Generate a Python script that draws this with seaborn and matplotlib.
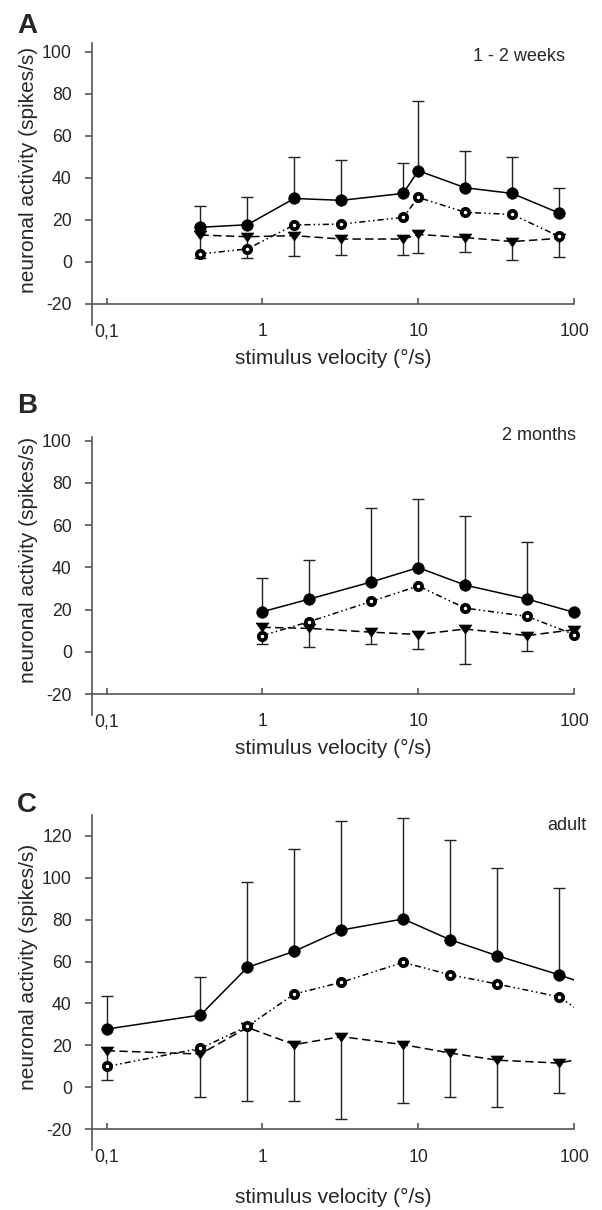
import numpy as np
import matplotlib
matplotlib.use('Agg')
import matplotlib.pyplot as plt
from matplotlib.ticker import NullLocator
import seaborn as sns

sns.set_style("white")
plt.rcParams['font.family'] = ['Liberation Sans', 'DejaVu Sans']

# ---- datos ----
# A: 1 - 2 weeks
vel_a = [0.4, 0.8, 1.6, 3.2, 8, 10, 20, 40, 80]
solid_a = [16.5, 17.7, 30.2, 29.3, 32.6, 43.4, 35.3, 32.6, 23.3]
solid_err_a = [9.9, 13.3, 19.5, 19.3, 14.4, 33.1, 17.4, 17.3, 11.7]
dotted_a = [3.8, 6.2, 17.6, 18.0, 21.2, 30.7, 23.6, 22.6, 12.2]
tri_a = [12.8, 12.0, 12.5, 10.9, 10.9, 13.1, 11.6, 9.7, 11.2]
tri_err_a = [11.1, 10.3, 9.5, 7.6, 7.6, 9.0, 7.0, 8.6, 9.0]

# B: 2 months
vel_b = [1, 2, 5, 10, 20, 50, 100]
solid_b = [19.0, 25.0, 33.1, 39.9, 31.6, 25.0, 18.7]
solid_err_b = [16.2, 18.5, 34.9, 32.5, 32.9, 27.1, 0]
dotted_b = [7.7, 14.3, 23.9, 31.2, 20.7, 16.8, 8.2]
tri_b = [11.6, 11.1, 9.3, 8.2, 10.8, 7.7, 10.5]
tri_err_b = [7.8, 8.6, 5.8, 6.8, 16.6, 7.2, 0]

# C: adult (el ultimo punto queda fuera del eje)
vel_c = [0.1, 0.4, 0.8, 1.6, 3.2, 8, 16, 32, 80, 160]
solid_c = [27.8, 34.5, 57.2, 64.9, 75.0, 80.3, 70.4, 62.8, 53.7, 46.0]
solid_err_c = [15.9, 18.3, 40.6, 48.8, 51.9, 48.3, 47.6, 41.7, 41.3, 0]
dotted_c = [10.0, 18.6, 29.1, 44.5, 50.1, 59.6, 53.7, 49.3, 43.2, 28.0]
tri_c = [17.5, 15.9, 28.6, 20.4, 24.2, 20.4, 16.4, 13.0, 11.6, 16.0]
tri_err_c = [14.0, 20.4, 35.3, 26.8, 39.3, 27.6, 21.2, 22.1, 14.3, 0]

AX_COLOR = '#555555'
DASHED = (0, (5.5, 2.8))
DASH_DOT_DOT = (0, (4, 2, 1, 2, 1, 2))
TRI_MARKER = [(-1, 0.7), (1, 0.7), (0, -0.7), (-1, 0.7)]
TICK_FS = 12.7
LABEL_FS = 15


def one_sided_bars(ax, vel, mean, err, sign, clip):
    # barra de error en un solo sentido (arriba o abajo) con su tope
    vel = np.asarray(vel, dtype=float)
    mean = np.asarray(mean, dtype=float)
    err = np.asarray(err, dtype=float)
    keep = err > 0
    end = mean + sign * err
    ax.vlines(vel[keep], mean[keep], end[keep], colors='#222222', linewidth=1.0,
              zorder=2, clip_on=clip)
    ax.plot(vel[keep], end[keep], linestyle='none', marker='_', markersize=8.5,
            markeredgewidth=1.0, color='#222222', zorder=2, clip_on=clip)


def draw_panel(ax, vel, solid, solid_err, dotted, tri, tri_err, clip=True):
    one_sided_bars(ax, vel, solid, solid_err, +1, clip)
    one_sided_bars(ax, vel, tri, tri_err, -1, clip)
    sns.lineplot(x=vel, y=tri, ax=ax, color='black', errorbar=None,
                 linestyle=DASHED, linewidth=1.1, marker=TRI_MARKER, markersize=9.2,
                 markerfacecolor='black', markeredgecolor='black', markeredgewidth=0.5,
                 zorder=3, clip_on=clip)
    sns.lineplot(x=vel, y=dotted, ax=ax, color='black', errorbar=None,
                 linestyle=DASH_DOT_DOT, linewidth=1.1, marker='o', markersize=5.3,
                 markerfacecolor='white', markeredgecolor='black', markeredgewidth=2.7,
                 zorder=4, clip_on=clip)
    sns.lineplot(x=vel, y=solid, ax=ax, color='black', errorbar=None,
                 linestyle='-', linewidth=1.1, marker='o', markersize=8.3,
                 markerfacecolor='black', markeredgecolor='black', markeredgewidth=0.5,
                 zorder=5, clip_on=clip)


def style_axis(ax, ymax, yticks, xlabelpad, label_y):
    ax.set_xscale('log')
    ax.set_xlim(0.0805, 100)
    ax.set_ylim(-30, ymax)
    ax.xaxis.set_minor_locator(NullLocator())
    ax.set_xticks([0.1, 1, 10, 100], ['0,1', '1', '10', '100'])
    ax.set_yticks(yticks, [str(v) for v in yticks])
    for s in ['top', 'right']:
        ax.spines[s].set_visible(False)
    ax.spines['bottom'].set_position(('data', -20))
    for s in ['left', 'bottom']:
        ax.spines[s].set_color(AX_COLOR)
        ax.spines[s].set_linewidth(1.2)
    ax.tick_params(axis='y', direction='out', length=5, width=1.2, color=AX_COLOR,
                   pad=9.5, labelsize=TICK_FS, left=True)
    ax.tick_params(axis='x', direction='in', length=4, width=1.2, color=AX_COLOR,
                   pad=14, labelsize=TICK_FS, bottom=True)
    ax.set_xlabel('stimulus velocity (°/s)', fontsize=LABEL_FS, labelpad=xlabelpad)
    ax.set_ylabel('neuronal activity (spikes/s)', fontsize=LABEL_FS)
    ax.yaxis.set_label_coords(-0.112, label_y)
    ax.grid(False)


fig = plt.figure(figsize=(6.02, 12.1), dpi=100)

ax_a = fig.add_axes([0.1528, 0.7314, 0.8008, 0.2328])
draw_panel(ax_a, vel_a, solid_a, solid_err_a, dotted_a, tri_a, tri_err_a)
style_axis(ax_a, 104, list(range(-20, 101, 20)), 6, 0.552)

ax_b = fig.add_axes([0.1528, 0.4090, 0.8008, 0.2302])
draw_panel(ax_b, vel_b, solid_b, solid_err_b, dotted_b, tri_b, tri_err_b, clip=False)
style_axis(ax_b, 102, list(range(-20, 101, 20)), 6, 0.557)

ax_c = fig.add_axes([0.1528, 0.0493, 0.8008, 0.2774])
draw_panel(ax_c, vel_c, solid_c, solid_err_c, dotted_c, tri_c, tri_err_c)
style_axis(ax_c, 130, list(range(-20, 121, 20)), 16, 0.546)

# letras de panel
fig.text(0.028, 0.9727, 'A', fontsize=20, fontweight='bold', va='baseline')
fig.text(0.028, 1 - 413 / 1210, 'B', fontsize=20, fontweight='bold', va='baseline')
fig.text(0.028, 1 - 812 / 1210, 'C', fontsize=20, fontweight='bold', va='baseline')

# etiquetas de edad
fig.text(565 / 602, 1 - 56.4 / 1210, '1 - 2 weeks', fontsize=13, ha='right', va='center')
fig.text(576 / 602, 1 - 436 / 1210, '2 months', fontsize=13, ha='right', va='center')
fig.text(587 / 602, 1 - 825 / 1210, 'adult', fontsize=13, ha='right', va='center')

plt.savefig('out.png', dpi=100)
